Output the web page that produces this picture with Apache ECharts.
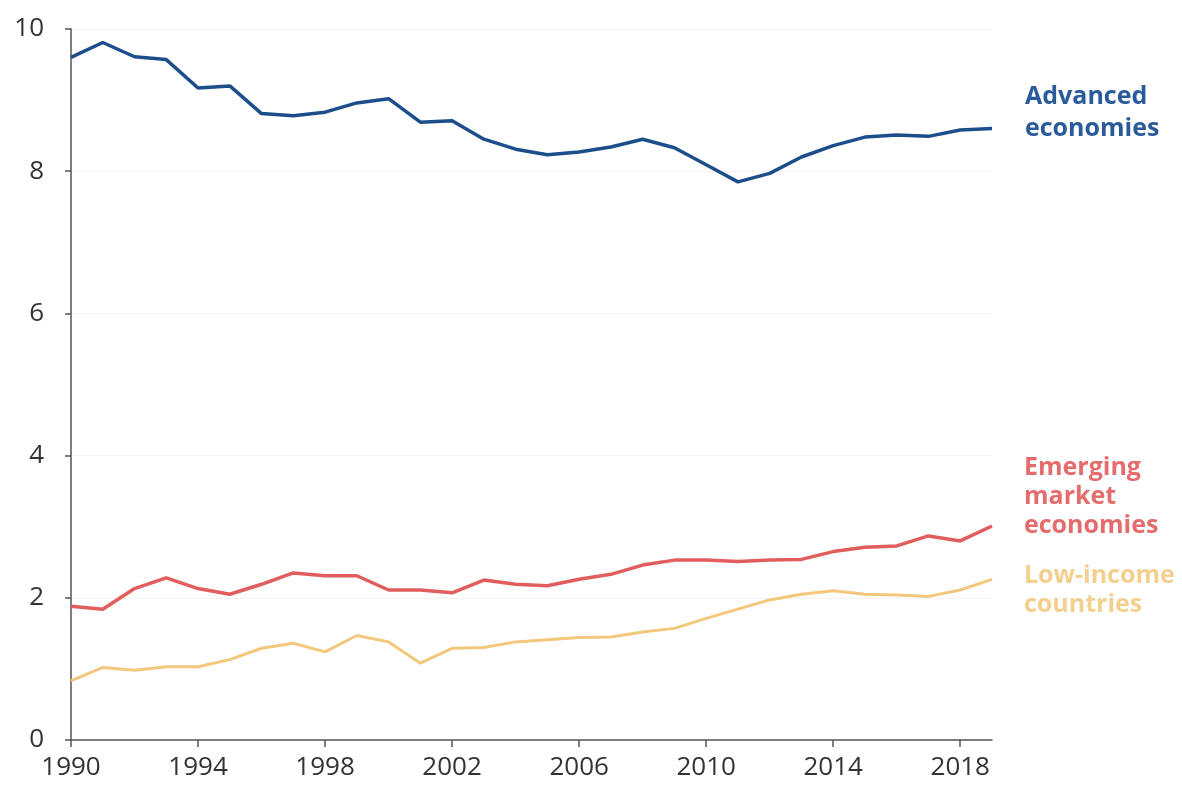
<!DOCTYPE html>
<html>
<head>
<meta charset="utf-8">
<script src="https://cdn.jsdelivr.net/npm/echarts@6/dist/echarts.min.js"></script>
<style>
html,body{margin:0;padding:0;background:#fff;}
#chart{width:1182px;height:789px;}
</style>
</head>
<body>
<div id="chart"></div>
<script>
const years = [];
for (let y = 1990; y <= 2019; y++) years.push(String(y));

const advanced = [9.60,9.81,9.61,9.57,9.17,9.20,8.81,8.78,8.83,8.96,9.02,8.69,8.71,8.45,8.31,8.23,8.27,8.34,8.45,8.33,8.09,7.85,7.97,8.20,8.36,8.48,8.51,8.49,8.58,8.60];
const emerging = [1.88,1.84,2.13,2.28,2.13,2.05,2.19,2.35,2.31,2.31,2.11,2.11,2.07,2.25,2.19,2.17,2.26,2.33,2.46,2.53,2.53,2.51,2.53,2.54,2.65,2.71,2.73,2.87,2.80,3.01];
const lowIncome = [0.83,1.02,0.98,1.03,1.03,1.13,1.29,1.36,1.24,1.47,1.38,1.08,1.29,1.30,1.38,1.41,1.44,1.45,1.52,1.57,1.71,1.84,1.97,2.05,2.10,2.05,2.04,2.02,2.11,2.26];

const FONT = '"Open Sans", "Noto Sans", sans-serif';
const chart = echarts.init(document.getElementById('chart'), null, {renderer:'canvas'});
const lineSeries = (name, data, color, width) => ({
  name, type:'line', data, symbol:'none', smooth:false,
  lineStyle:{color, width}, itemStyle:{color}
});
chart.setOption({
  animation:false,
  grid:{left:71, right:190, top:29, bottom:49},
  xAxis:{
    type:'category', data:years, boundaryGap:false,
    axisLine:{lineStyle:{color:'#555', width:1.5}},
    axisTick:{interval:3, length:7, lineStyle:{color:'#555', width:1.5}},
    axisLabel:{interval:3, color:'#333', fontSize:26, fontFamily:FONT, margin:15},
    splitLine:{show:false}
  },
  yAxis:{
    type:'value', min:0, max:10, interval:2,
    axisLine:{show:true, lineStyle:{color:'#555', width:1.5}},
    axisTick:{show:true, length:6, lineStyle:{color:'#555', width:1.5}},
    axisLabel:{color:'#333', fontSize:26, fontFamily:FONT, margin:27},
    splitLine:{show:true, lineStyle:{color:'#f3f3f3', width:1}}
  },
  series:[
    lineSeries('Advanced economies', advanced, '#1d4e8c', 3.5),
    lineSeries('Emerging market economies', emerging, '#e25d5d', 3.5),
    lineSeries('Low-income countries', lowIncome, '#f3c77c', 3)
  ],
  graphic:[
    {type:'text', left:1025, top:81, style:{text:'Advanced\neconomies', fill:'#2a5b9b', font:'bold 25px '+FONT, lineHeight:32}},
    {type:'text', left:1024, top:453, style:{text:'Emerging\nmarket\neconomies', fill:'#e56c6c', font:'bold 25px '+FONT, lineHeight:29}},
    {type:'text', left:1024, top:561, style:{text:'Low-income\ncountries', fill:'#f4d08e', font:'bold 25px '+FONT, lineHeight:29}}
  ]
});
</script>
</body>
</html>
